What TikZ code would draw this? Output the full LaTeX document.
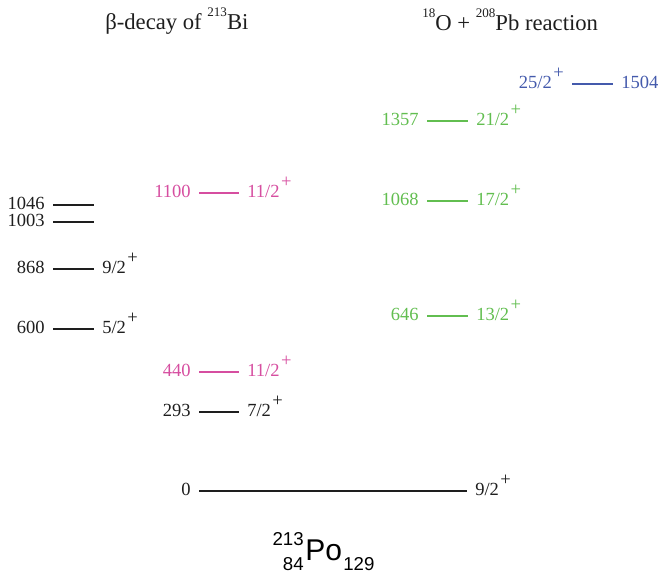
\documentclass[tikz,border=0pt]{standalone}
\usepackage{fontspec}
\setmainfont{Liberation Serif}
\newfontfamily\helvfam{Liberation Sans}
\definecolor{lvmag}{RGB}{214,78,160}
\definecolor{lvgrn}{RGB}{98,190,80}
\definecolor{lvblu}{RGB}{68,90,172}
\definecolor{lvblk}{RGB}{30,30,30}
\newcommand\spinval[1]{#1\kern0.08em\raisebox{0.55em}{+}}
\begin{document}
\begin{tikzpicture}[x=0.75pt,y=-0.75pt,
  lvl/.style={line width=1.5pt},
  lab/.style={font=\fontsize{13.9}{16}\selectfont, inner sep=0pt, text height=0.66em, text depth=0pt},
  elab/.style={lab, anchor=east, xshift=-8*0.75pt},
  slab/.style={lab, anchor=west, xshift=8*0.75pt},
  ttl/.style={font=\fontsize{17}{18}\selectfont, inner sep=0pt, anchor=base west, text=lvblk}]
\useasboundingbox (0,0) rectangle (659,576);

% titles
\node[ttl] (t1) at (105,29) {β-decay of \raisebox{0.55em}{\fontsize{9.8}{10}\selectfont 213}Bi};
\node[ttl] (t2) at (422,30) {\raisebox{0.55em}{\fontsize{9.8}{10}\selectfont 18}O + \raisebox{0.55em}{\fontsize{9.8}{10}\selectfont 208}Pb reaction};

% left column (black)
\coordinate (a1) at (53,205); \coordinate (b1) at (94,205);
\coordinate (a2) at (53,222); \coordinate (b2) at (94,222);
\coordinate (a3) at (53,269); \coordinate (b3) at (94,269);
\coordinate (a4) at (53,329); \coordinate (b4) at (94,329);
\draw[lvl, lvblk] (a1) -- (b1);
\draw[lvl, lvblk] (a2) -- (b2);
\draw[lvl, lvblk] (a3) -- (b3);
\draw[lvl, lvblk] (a4) -- (b4);
\node[elab, text=lvblk] (e1) at (a1) {1046};
\node[elab, text=lvblk] (e2) at (a2) {1003};
\node[elab, text=lvblk] (e3) at (a3) {868};
\node[slab, text=lvblk] (s3) at (b3) {\spinval{9/2}};
\node[elab, text=lvblk] (e4) at (a4) {600};
\node[slab, text=lvblk] (s4) at (b4) {\spinval{5/2}};

% middle column
\coordinate (a5) at (199,193); \coordinate (b5) at (239,193);
\coordinate (a6) at (199,372); \coordinate (b6) at (239,372);
\coordinate (a7) at (199,412); \coordinate (b7) at (239,412);
\draw[lvl, lvmag] (a5) -- (b5);
\draw[lvl, lvmag] (a6) -- (b6);
\draw[lvl, lvblk] (a7) -- (b7);
\node[elab, text=lvmag] (e5) at (a5) {1100};
\node[slab, text=lvmag] (s5) at (b5) {\spinval{11/2}};
\node[elab, text=lvmag] (e6) at (a6) {440};
\node[slab, text=lvmag] (s6) at (b6) {\spinval{11/2}};
\node[elab, text=lvblk] (e7) at (a7) {293};
\node[slab, text=lvblk] (s7) at (b7) {\spinval{7/2}};

% ground state
\coordinate (a0) at (199,491); \coordinate (b0) at (467,491);
\draw[lvl, lvblk] (a0) -- (b0);
\node[elab, text=lvblk] (e0) at (a0) {0};
\node[slab, text=lvblk] (s0) at (b0) {\spinval{9/2}};

% right column (green)
\coordinate (a8) at (427,121); \coordinate (b8) at (468,121);
\coordinate (a9) at (427,201); \coordinate (b9) at (468,201);
\coordinate (a10) at (427,316); \coordinate (b10) at (468,316);
\draw[lvl, lvgrn] (a8) -- (b8);
\draw[lvl, lvgrn] (a9) -- (b9);
\draw[lvl, lvgrn] (a10) -- (b10);
\node[elab, text=lvgrn] (e8) at (a8) {1357};
\node[slab, text=lvgrn] (s8) at (b8) {\spinval{21/2}};
\node[elab, text=lvgrn] (e9) at (a9) {1068};
\node[slab, text=lvgrn] (s9) at (b9) {\spinval{17/2}};
\node[elab, text=lvgrn] (e10) at (a10) {646};
\node[slab, text=lvgrn] (s10) at (b10) {\spinval{13/2}};

% blue level
\coordinate (a11) at (572,84); \coordinate (b11) at (613,84);
\draw[lvl, lvblu] (a11) -- (b11);
\node[elab, text=lvblu] (s11) at (a11) {\spinval{25/2}};
\node[slab, text=lvblu] (e11) at (b11) {1504};

% nucleus label
\node[font=\helvfam\fontsize{22.5}{24}\selectfont, inner sep=0pt, anchor=base west, text=black] (po) at (305,560) {Po};
\node[font=\helvfam\fontsize{14}{15}\selectfont, inner sep=0pt, anchor=base east, text=black] (pomass) at (304,545) {213};
\node[font=\helvfam\fontsize{14}{15}\selectfont, inner sep=0pt, anchor=base east, text=black] (poz) at (304,570) {84};
\node[font=\helvfam\fontsize{14}{15}\selectfont, inner sep=0pt, anchor=base west, text=black] (pon) at (343,570) {129};
\end{tikzpicture}
\end{document}
